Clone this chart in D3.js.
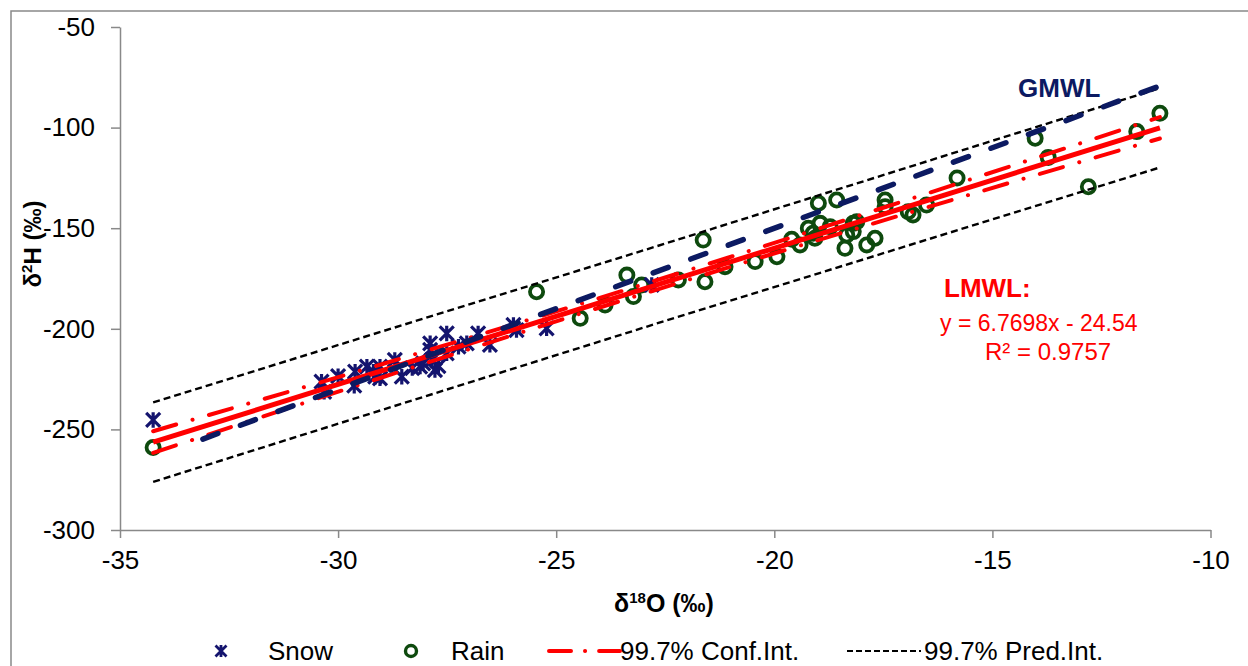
<!DOCTYPE html>
<html>
<head>
<meta charset="utf-8">
<script src="https://cdn.jsdelivr.net/npm/d3@7"></script>
<style>
  body { margin: 0; background: #fff; }
  svg text { font-family: "Liberation Sans", Arial, sans-serif; }
</style>
</head>
<body>
<svg id="canvas" width="1248" height="666"></svg>
<script>
// snow samples [d18O, d2H]
let snowData = [
  [-34.24,-245.3],[-30.38,-226.3],[-30.32,-231.3],[-30.0,-223.5],[-29.61,-221.3],
  [-29.63,-228.3],[-29.34,-218.8],[-29.15,-223.8],[-29.04,-218.8],[-29.19,-221.3],
  [-29.04,-224.6],[-28.7,-215.5],[-28.54,-223.8],[-28.3,-219.5],[-28.12,-218.8],
  [-28.05,-217.2],[-27.89,-207.2],[-27.89,-210.5],[-27.78,-220.5],[-27.85,-215.5],
  [-27.7,-218.5],[-27.51,-202.3],[-27.51,-212.2],[-27.24,-208.9],[-27.05,-207.2],
  [-26.79,-202.3],[-26.52,-208],[-25.98,-198.1],[-25.91,-200.6],[-25.22,-199.8],
  [-22.81,-178.2]
]
// rain samples [d18O, d2H]
let rainData = [
  [-34.24,-259],[-25.45,-181.6],[-24.45,-194.8],[-23.88,-188.2],[-23.38,-173.3],
  [-23.23,-184],[-23.04,-178.2],[-22.2,-175.7],[-21.63,-155.9],[-21.59,-176.6],
  [-21.13,-169.1],[-20.44,-166.6],[-19.94,-164.2],[-19.6,-155.5],[-19.41,-158.3],
  [-19.22,-150],[-19.11,-152.5],[-19.07,-155],[-18.99,-137.6],[-18.95,-147.6],
  [-18.72,-149.3],[-18.57,-136],[-18.34,-153.4],[-18.38,-160],[-18.19,-147.6],
  [-18.19,-151.7],[-18.11,-146.8],[-17.88,-158.3],[-17.69,-155],[-17.46,-136],
  [-17.46,-139.3],[-16.93,-141.8],[-16.82,-143.4],[-16.51,-138.5],[-15.81,-125],
  [-14.02,-105.3],[-13.72,-114.8],[-12.8,-129.4],[-11.69,-102],[-11.16,-92.9]
]

// local meteoric water line (trendline shown on the chart)
let lmwlSlope = 6.7698
let lmwlIntercept = -24.54
let lmwlX = [-34.24, -11.16]

// global meteoric water line
let gmwlX = [-33.1, -11.05]
let gmwlY = [-254.8, -78.4]

// 99.7% confidence band
let ciX = [-34.24, -29, -23, -17, -11.16]
let ciUpper = [-250.9, -217.6, -177.9, -136.3, -94.8]
let ciLower = [-261.7, -224.2, -182.6, -142.9, -105.4]

// 99.7% prediction band
let piX = [-34.24, -22.7, -11.16]
let piUpper = [-236.6, -159.0, -80.4]
let piLower = [-276.1, -197.4, -119.8]

let xTicks = [-35, -30, -25, -20, -15, -10]
let yTicks = [-300, -250, -200, -150, -100, -50]

let canvas = d3.select('#canvas')

let x = d3.scaleLinear().domain([-35, -10]).range([120, 1210.5])
let y = d3.scaleLinear().domain([-300, -50]).range([530, 27])

let axisColor = '#898989'
let snowColor = '#14146e'
let rainColor = '#0e4a0e'
let gmwlColor = '#0c1a62'

// outer frame
canvas.append('rect')
  .attr('x', 11).attr('y', 11)
  .attr('width', 1260).attr('height', 700)
  .attr('fill', 'none').attr('stroke', axisColor).attr('stroke-width', 1.5)

// axes (plain hyphen minus like the original)
let fmt = d => String(d)
let yAxis = canvas.append('g')
  .attr('transform', 'translate(' + x(-35) + ',0)')
  .call(d3.axisLeft(y).tickValues(yTicks).tickFormat(fmt).tickSize(9).tickSizeOuter(0).tickPadding(16))
let xAxis = canvas.append('g')
  .attr('transform', 'translate(0,' + y(-300) + ')')
  .call(d3.axisBottom(x).tickValues(xTicks).tickFormat(fmt).tickSize(8).tickSizeOuter(0).tickPadding(13))

;[xAxis, yAxis].forEach(a => {
  a.select('.domain').attr('stroke', axisColor).attr('stroke-width', 1.5)
  a.selectAll('.tick line').attr('stroke', axisColor).attr('stroke-width', 1.5)
  a.selectAll('.tick text')
    .attr('fill', '#000')
    .style('font-size', '26px')
    .style('font-family', '"Liberation Sans", Arial, sans-serif')
})

// axis titles
let xTitle = canvas.append('text')
  .attr('x', 664).attr('y', 612)
  .attr('text-anchor', 'middle')
  .style('font-size', '25px').style('font-weight', 'bold')
xTitle.append('tspan').text('δ')
xTitle.append('tspan').attr('dy', -9).style('font-size', '15px').text('18')
xTitle.append('tspan').attr('dy', 9).text('O (‰)')

let yTitle = canvas.append('text')
  .attr('transform', 'translate(41,244) rotate(-90)')
  .attr('text-anchor', 'middle')
  .style('font-size', '24px').style('font-weight', 'bold')
yTitle.append('tspan').text('δ')
yTitle.append('tspan').attr('dy', -9).style('font-size', '15px').text('2')
yTitle.append('tspan').attr('dy', 9).text('H (‰)')

// markers
let snowPath = (s) => {
  let h = s / 2
  return 'M' + (-h) + ',' + (-h) + 'L' + h + ',' + h +
         'M' + (-h) + ',' + h + 'L' + h + ',' + (-h) +
         'M0,' + (-h * 1.1) + 'L0,' + (h * 1.1)
}

canvas.append('g')
  .selectAll('circle')
  .data(rainData)
  .enter()
  .append('circle')
  .attr('cx', d => x(d[0]))
  .attr('cy', d => y(d[1]))
  .attr('r', 6.6)
  .attr('fill', 'none')
  .attr('stroke', rainColor)
  .attr('stroke-width', 3.8)

canvas.append('g')
  .selectAll('path')
  .data(snowData)
  .enter()
  .append('path')
  .attr('transform', d => 'translate(' + x(d[0]) + ',' + y(d[1]) + ')')
  .attr('d', snowPath(14))
  .attr('fill', 'none')
  .attr('stroke', snowColor)
  .attr('stroke-width', 3.2)

// lines
let line = d3.line().x(d => x(d[0])).y(d => y(d[1]))
let smooth = d3.line().x(d => x(d[0])).y(d => y(d[1])).curve(d3.curveNatural)

let bands = [
  { xs: piX, ys: piUpper }, { xs: piX, ys: piLower }
]
bands.forEach(b => {
  canvas.append('path')
    .attr('d', line(b.xs.map((v, i) => [v, b.ys[i]])))
    .attr('fill', 'none').attr('stroke', '#000')
    .attr('stroke-width', 2.4).attr('stroke-dasharray', '7,4')
})

;[ciUpper, ciLower].forEach(ys => {
  canvas.append('path')
    .attr('d', smooth(ciX.map((v, i) => [v, ys[i]])))
    .attr('fill', 'none').attr('stroke', '#ff0000')
    .attr('stroke-width', 4).attr('stroke-linecap', 'round')
    .attr('stroke-dasharray', '24,17,0.1,17')
})

canvas.append('path')
  .attr('d', line(lmwlX.map(v => [v, lmwlSlope * v + lmwlIntercept])))
  .attr('fill', 'none').attr('stroke', '#ff0000').attr('stroke-width', 5)

canvas.append('path')
  .attr('d', line(gmwlX.map((v, i) => [v, gmwlY[i]])))
  .attr('fill', 'none').attr('stroke', gmwlColor)
  .attr('stroke-width', 5.5).attr('stroke-linecap', 'round')
  .attr('stroke-dasharray', '16,24')

// line labels
canvas.append('text')
  .attr('x', 1018).attr('y', 97)
  .style('font-size', '26px').style('font-weight', 'bold')
  .attr('fill', gmwlColor)
  .text('GMWL')

canvas.append('text')
  .attr('x', 944).attr('y', 297)
  .style('font-size', '26px').style('font-weight', 'bold')
  .attr('fill', '#ff0000')
  .text('LMWL:')

canvas.append('text')
  .attr('x', 940).attr('y', 331)
  .style('font-size', '23px')
  .attr('fill', '#ff0000')
  .text('y = 6.7698x - 24.54')

canvas.append('text')
  .attr('x', 985).attr('y', 360)
  .style('font-size', '24px')
  .attr('fill', '#ff0000')
  .text('R² = 0.9757')

// legend
let legendY = 651
let legend = canvas.append('g')

legend.append('path')
  .attr('transform', 'translate(221,' + legendY + ')')
  .attr('d', snowPath(11))
  .attr('fill', 'none').attr('stroke', snowColor).attr('stroke-width', 2.8)
legend.append('text').attr('x', 268).attr('y', legendY + 9)
  .style('font-size', '26px').text('Snow')

legend.append('circle')
  .attr('cx', 411).attr('cy', legendY).attr('r', 5.5)
  .attr('fill', 'none').attr('stroke', rainColor).attr('stroke-width', 3.4)
legend.append('text').attr('x', 451).attr('y', legendY + 9)
  .style('font-size', '26px').text('Rain')

legend.append('line')
  .attr('x1', 549).attr('x2', 620).attr('y1', legendY).attr('y2', legendY)
  .attr('stroke', '#ff0000').attr('stroke-width', 4).attr('stroke-linecap', 'round')
  .attr('stroke-dasharray', '22,14,0.1,14')
legend.append('text').attr('x', 620).attr('y', legendY + 9)
  .style('font-size', '26px').text('99.7% Conf.Int.')

legend.append('line')
  .attr('x1', 847).attr('x2', 921).attr('y1', legendY).attr('y2', legendY)
  .attr('stroke', '#000').attr('stroke-width', 2).attr('stroke-dasharray', '6,3')
legend.append('text').attr('x', 924).attr('y', legendY + 9)
  .style('font-size', '26px').text('99.7% Pred.Int.')
</script>
</body>
</html>
